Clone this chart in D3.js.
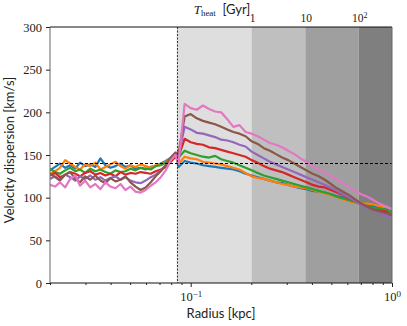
<!DOCTYPE html>
<html>
<head>
    <meta charset="utf-8">
    <title>Velocity dispersion</title>
    <script src="https://cdnjs.cloudflare.com/ajax/libs/d3/7.8.5/d3.min.js"></script>
    <style>
        body { margin: 0; background: #fff; }
        .tick text { font-family: "Liberation Serif", serif; font-size: 12.5px; fill: #222; }
        .tick line { stroke: #222; }
    </style>
</head>
<body>
    <div id="vis"></div>

    <script>
        // radius grid [kpc]
        var radius = [
            0.0200, 0.0212, 0.0224, 0.0238, 0.0252, 0.0267, 0.0282, 0.0299, 0.0317, 0.0336,
            0.0356, 0.0377, 0.0399, 0.0423, 0.0448, 0.0474, 0.0502, 0.0532, 0.0564, 0.0597,
            0.0633, 0.0670, 0.0710, 0.0752, 0.0797, 0.0840,
            0.0870, 0.0933, 0.1000, 0.1072, 0.1150, 0.1233, 0.1322, 0.1417, 0.1519, 0.1629,
            0.1747, 0.1873, 0.2008, 0.2153, 0.2308, 0.2475, 0.2654, 0.2845, 0.3051, 0.3271,
            0.3507, 0.3760, 0.4032, 0.4323, 0.4635, 0.4970, 0.5329, 0.5714, 0.6126, 0.6569,
            0.7043, 0.7552, 0.8097, 0.8682, 0.9309, 1.0000
        ];

        // velocity dispersion [km/s], one array per curve
        var sigmaBlue = [132,136,140,135,138,134,141,137,139,136,146,138,135,137,140,136,138,134,135,133,136,137,140,143,147,152,
            136,143,141,140,138,137,136,135,134,133,131,128,126,124,122,120,118,117,115,113,111,110,108,107,106,104,102,100,97,95,93,92,90,88,86,84];
        var sigmaOrange = [128,131,135,144,140,136,133,139,137,141,133,136,139,142,137,134,138,136,139,137,135,138,139,142,146,150,
            140,148,146,145,142,141,140,139,137,135,133,129,125,123,122,120,118,116,115,113,112,111,109,107,105,103,101,98,96,94,93,93,92,90,89,87];
        var sigmaGreen = [134,130,128,132,135,131,133,129,134,131,133,130,128,132,130,131,134,132,135,134,133,137,138,141,145,150,
            147,155,152,150,148,147,149,145,143,141,138,135,132,129,126,124,122,120,118,116,114,112,110,108,106,104,101,99,97,95,93,90,88,87,86,83];
        var sigmaRed = [126,129,124,127,130,128,125,129,131,127,129,126,128,125,130,127,129,128,130,129,128,131,133,136,142,148,
            148,169,165,163,162,159,158,156,154,152,150,148,144,141,137,134,132,130,127,124,121,118,115,113,112,109,106,103,99,96,92,89,86,85,84,78];
        var sigmaPurple = [122,125,121,127,124,120,125,122,126,121,124,120,123,125,121,124,120,118,117,120,124,127,132,138,145,151,
            150,183,180,176,175,173,171,168,167,165,162,160,154,150,146,142,139,136,133,130,127,124,121,118,115,112,108,104,100,96,91,88,85,82,79,77];
        var sigmaBrown = [128,124,120,127,130,122,118,125,121,126,120,117,123,119,121,125,118,113,109,112,118,125,131,138,147,153,
            152,195,198,193,190,188,186,183,180,177,175,172,166,163,158,155,151,147,144,140,136,132,128,125,121,116,111,107,103,98,93,89,86,84,82,80];
        var sigmaPink = [115,113,118,112,122,126,114,120,112,116,110,118,113,111,116,109,113,107,106,109,114,118,124,132,144,150,
            140,210,205,203,208,204,201,200,192,183,185,177,175,172,168,164,162,159,155,151,146,142,137,133,130,125,121,117,112,108,104,101,97,93,90,86];

        var seriesValues = [sigmaBlue, sigmaOrange, sigmaGreen, sigmaRed, sigmaPurple, sigmaBrown, sigmaPink];
        var seriesColors = ["#1f77b4", "#ff7f0e", "#2ca02c", "#d62728", "#9467bd", "#8c564b", "#e377c2"];

        // heating-time bands (radius edges) and their top labels
        var bandEdges = [0.0852, 0.2006, 0.371, 0.683, 1.0];
        var bandColors = ["#dedede", "#bfbfbf", "#9f9f9f", "#7f7f7f"];
        var heatTickRadius = [0.2006, 0.371, 0.683];
        var heatTickLabels = [["1", ""], ["10", ""], ["10", "2"]];

        var yTicks = [0, 50, 100, 150, 200, 250, 300];
        var xMajor = [0.1, 1];
        var xMajorLabels = [["10", "\u22121"], ["10", "0"]];
        var xMinor = [0.02, 0.03, 0.04, 0.05, 0.06, 0.07, 0.08, 0.09, 0.2, 0.3, 0.4, 0.5, 0.6, 0.7, 0.8, 0.9];
        var refSigma = 141;
        var refRadius = 0.0852;

        var W = 407, H = 326;
        var m = { left: 50, right: 15, top: 27, bottom: 43 };
        var iw = W - m.left - m.right, ih = H - m.top - m.bottom;

        var svg = d3.select("#vis").append("svg")
            .attr("width", W)
            .attr("height", H);

        var g = svg.append("g").attr("transform", "translate(" + m.left + "," + m.top + ")");

        var x = d3.scaleLog().domain([0.02, 1]).range([0, iw]);
        var y = d3.scaleLinear().domain([0, 300]).range([ih, 0]);

        svg.append("defs").append("clipPath").attr("id", "clip")
            .append("rect").attr("width", iw).attr("height", ih);

        var plot = g.append("g").attr("clip-path", "url(#clip)");

        // shaded bands
        plot.selectAll("rect.band")
            .data(bandColors)
            .enter().append("rect")
            .attr("class", "band")
            .attr("x", function(d, i) { return x(bandEdges[i]); })
            .attr("y", 0)
            .attr("width", function(d, i) { return x(bandEdges[i + 1]) - x(bandEdges[i]); })
            .attr("height", ih)
            .style("fill", function(d) { return d; });

        // curves
        var line = d3.line()
            .x(function(d, i) { return x(radius[i]); })
            .y(function(d) { return y(d); });

        plot.selectAll("path.curve")
            .data(seriesValues)
            .enter().append("path")
            .attr("class", "curve")
            .attr("d", line)
            .style("fill", "none")
            .style("stroke", function(d, i) { return seriesColors[i]; })
            .style("stroke-width", 2.2)
            .style("stroke-linejoin", "round");

        // reference dashed lines
        plot.append("line")
            .attr("x1", 0).attr("x2", iw)
            .attr("y1", Math.round(y(refSigma)) + 0.5).attr("y2", Math.round(y(refSigma)) + 0.5)
            .style("stroke", "#000").style("stroke-width", 1).style("stroke-dasharray", "3,2");

        plot.append("line")
            .attr("x1", Math.round(x(refRadius)) + 0.5).attr("x2", Math.round(x(refRadius)) + 0.5)
            .attr("y1", 0).attr("y2", ih)
            .style("stroke", "#333").style("stroke-width", 1).style("stroke-dasharray", "2,1.5");

        // frame
        g.append("line").attr("x1", 0).attr("x2", iw).attr("y1", 0).attr("y2", 0).style("stroke", "#111");
        g.append("line").attr("x1", 0).attr("x2", iw).attr("y1", ih).attr("y2", ih).style("stroke", "#111");
        g.append("line").attr("x1", 0).attr("x2", 0).attr("y1", 0).attr("y2", ih).style("stroke", "#666");
        g.append("line").attr("x1", iw).attr("x2", iw).attr("y1", 0).attr("y2", ih).style("stroke", "#666");

        // y axis
        var yAxis = g.append("g")
            .call(d3.axisLeft(y).tickValues(yTicks).tickSize(4).tickPadding(4));
        yAxis.select(".domain").remove();

        // x axis minor
        var xMinorAxis = g.append("g")
            .attr("transform", "translate(0," + ih + ")")
            .call(d3.axisBottom(x).tickValues(xMinor).tickSize(2).tickFormat(""));
        xMinorAxis.select(".domain").remove();

        // x axis major with superscript labels
        var xAxis = g.append("g")
            .attr("transform", "translate(0," + ih + ")")
            .call(d3.axisBottom(x).tickValues(xMajor).tickSize(4).tickPadding(5).tickFormat(""));
        xAxis.select(".domain").remove();
        xAxis.selectAll(".tick text").each(function(d, i) {
            var t = d3.select(this).text(null);
            t.append("tspan").text(xMajorLabels[i][0]);
            t.append("tspan").attr("dy", "-0.45em").style("font-size", "9px").text(xMajorLabels[i][1]);
        });

        // top T_heat labels
        var heatAxis = g.append("g").attr("class", "tick");
        heatAxis.selectAll("text.heat")
            .data(heatTickRadius)
            .enter().append("text")
            .attr("class", "heat")
            .attr("x", function(d) { return x(d) + 1; })
            .attr("y", -5)
            .attr("text-anchor", "middle")
            .style("font-family", "Liberation Serif, serif")
            .style("font-size", "11.5px")
            .style("fill", "#222")
            .each(function(d, i) {
                var t = d3.select(this);
                t.append("tspan").text(heatTickLabels[i][0]);
                if (heatTickLabels[i][1]) {
                    t.append("tspan").attr("dy", "-0.45em").style("font-size", "8px").text(heatTickLabels[i][1]);
                }
            });

        var title = svg.append("text")
            .attr("x", 222)
            .attr("y", 14)
            .attr("text-anchor", "middle")
            .style("fill", "#222");
        title.append("tspan").style("font-family", "Liberation Serif, serif").style("font-style", "italic").style("font-size", "13px").text("T");
        title.append("tspan").attr("dy", "2").style("font-family", "Liberation Serif, serif").style("font-size", "9px").text("heat");
        title.append("tspan").attr("dy", "-2").style("font-family", "Lato, sans-serif").style("font-size", "13px").text("\u2002[Gyr]");

        // axis labels
        svg.append("text")
            .attr("x", m.left + iw / 2)
            .attr("y", 318)
            .attr("text-anchor", "middle")
            .style("font-family", "Lato, sans-serif")
            .style("font-size", "13px")
            .style("fill", "#222")
            .text("Radius [kpc]");

        svg.append("text")
            .attr("transform", "translate(14," + (m.top + ih / 2 - 5) + ") rotate(-90)")
            .attr("text-anchor", "middle")
            .style("font-family", "Lato, sans-serif")
            .style("font-size", "13px")
            .style("fill", "#222")
            .text("Velocity dispersion [km/s]");
    </script>
</body>
</html>
